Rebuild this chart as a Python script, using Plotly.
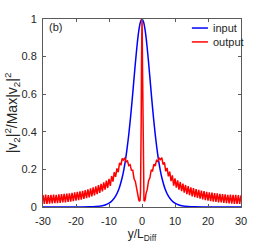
import numpy as np
import plotly.graph_objects as go

# ---- data ----
x_in = [-30, -20, -16, -14, -12, -11, -10, -9, -8, -7, -6, -5.5, -5, -4.5, -4, -3.5, -3, -2.5, -2, -1.5, -1, -0.5, 0,
        0.5, 1, 1.5, 2, 2.5, 3, 3.5, 4, 4.5, 5, 5.5, 6, 7, 8, 9, 10, 11, 12, 14, 16, 20, 30]
y_in = [0.0, 0.0001, 0.0009, 0.0025, 0.0072, 0.012, 0.020, 0.035, 0.058, 0.096, 0.157, 0.199, 0.251, 0.314, 0.387,
        0.472, 0.566, 0.667, 0.767, 0.859, 0.934, 0.983, 1.0,
        0.983, 0.934, 0.859, 0.767, 0.667, 0.566, 0.472, 0.387, 0.314, 0.251, 0.199, 0.157, 0.096, 0.058, 0.035,
        0.020, 0.012, 0.0072, 0.0025, 0.0009, 0.0001, 0.0]

# output: left wing x = -30 ... -1.2 (step 0.4)
out_left = [0.064, 0.017, 0.066, 0.016, 0.063, 0.018, 0.065, 0.019, 0.066, 0.020,
            0.064, 0.021, 0.067, 0.022, 0.068, 0.024, 0.070, 0.025, 0.071, 0.027,
            0.073, 0.029, 0.075, 0.031, 0.078, 0.034, 0.080, 0.036, 0.083, 0.039,
            0.086, 0.043, 0.090, 0.047, 0.094, 0.051, 0.099, 0.056, 0.104, 0.062,
            0.110, 0.068, 0.116, 0.075, 0.123, 0.083, 0.131, 0.092, 0.140, 0.101,
            0.150, 0.112, 0.165, 0.135, 0.185, 0.160, 0.205, 0.185, 0.235, 0.222,
            0.258, 0.250, 0.262, 0.240, 0.245, 0.220, 0.225, 0.195, 0.195, 0.150,
            0.135, 0.090, 0.065]
# output: central spike
x_center = [-1.0, -0.8, -0.6, -0.45, -0.35, -0.25, -0.15, -0.07, 0.0, 0.07, 0.15, 0.25, 0.35, 0.45, 0.6, 0.8, 1.0]
out_center = [0.040, 0.030, 0.035, 0.080, 0.200, 0.450, 0.750, 0.930, 1.000, 0.930, 0.750, 0.450, 0.200, 0.080,
              0.035, 0.030, 0.042]
# output: right wing x = 1.2 ... 30 (step 0.4)
out_right = [0.070, 0.095, 0.140, 0.155, 0.198, 0.192, 0.228, 0.218, 0.248, 0.242,
             0.260, 0.252, 0.262, 0.225, 0.238, 0.190, 0.208, 0.163, 0.188, 0.138,
             0.168, 0.114, 0.152, 0.103, 0.142, 0.093, 0.133, 0.084, 0.124, 0.076,
             0.117, 0.069, 0.111, 0.063, 0.105, 0.057, 0.100, 0.052, 0.095, 0.048,
             0.091, 0.044, 0.087, 0.040, 0.084, 0.037, 0.081, 0.034, 0.078, 0.031,
             0.076, 0.029, 0.074, 0.027, 0.072, 0.025, 0.070, 0.024, 0.068, 0.022,
             0.067, 0.021, 0.065, 0.019, 0.066, 0.018, 0.064, 0.017, 0.065, 0.016,
             0.063, 0.017, 0.062]

series_names = ["input", "output"]
series_colors = ["#0000ff", "#ff0000"]

x_tick_vals = [-30, -20, -10, 0, 10, 20, 30]
x_tick_text = ["-30", "-20", "-10", "0", "10", "20", "30"]
y_tick_vals = [0, 0.2, 0.4, 0.6, 0.8, 1]
y_tick_text = ["0", "0.2", "0.4", "0.6", "0.8", "1"]

x_left = list(np.round(np.arange(-30, -1.19, 0.4), 2))
x_right = list(np.round(np.arange(1.2, 30.01, 0.4), 2))
x_out = x_left + x_center + x_right
y_out = out_left + out_center + out_right

FONT = "Liberation Sans, Arial, sans-serif"
GREY = "#262626"

fig = go.Figure()
fig.add_trace(go.Scatter(x=x_in, y=y_in, mode="lines", name=series_names[0], showlegend=False,
                         line=dict(color=series_colors[0], width=1.5, shape="spline", smoothing=0.6)))
fig.add_trace(go.Scatter(x=x_out, y=y_out, mode="lines", name=series_names[1], showlegend=False,
                         line=dict(color=series_colors[1], width=1.5)))

axis_common = dict(showline=True, linecolor="#5a5a5a", linewidth=1, mirror="ticks",
                   ticks="inside", ticklen=3, tickcolor="#5a5a5a", showgrid=False, zeroline=False,
                   automargin=False,
                   tickfont=dict(family=FONT, size=11, color=GREY))

fig.update_xaxes(range=[-30, 30], tickvals=x_tick_vals, ticktext=x_tick_text,
                 title=dict(text="y/L<sub>Diff</sub>", font=dict(family=FONT, size=12, color=GREY), standoff=0),
                 ticklabelstandoff=4, **axis_common)
fig.update_yaxes(range=[0, 1], tickvals=y_tick_vals, ticktext=y_tick_text,
                 title=dict(text="|v<sub>2</sub>|<sup>2</sup>/Max|v<sub>2</sub>|<sup>2</sup>",
                            font=dict(family=FONT, size=14, color=GREY), standoff=0),
                 ticklabelstandoff=3, **axis_common)

fig.add_annotation(x=0.02, y=0.955, xref="paper", yref="paper", text="(b)", showarrow=False,
                   xanchor="left", yanchor="middle", font=dict(family=FONT, size=11, color=GREY))

# legend (drawn as key lines + labels, placed like the reference's legend box)
legend_rows = [0.952, 0.878]
for name, color, yy in zip(series_names, series_colors, legend_rows):
    fig.add_shape(type="line", xref="paper", yref="paper", x0=0.752, x1=0.833, y0=yy, y1=yy,
                  line=dict(color=color, width=1.5))
    fig.add_annotation(x=0.848, y=yy, xref="paper", yref="paper", text=name, showarrow=False,
                       xanchor="left", yanchor="middle", font=dict(family=FONT, size=11, color=GREY))

fig.update_layout(
    width=266, height=245,
    margin=dict(l=43, r=25, t=19, b=38),
    paper_bgcolor="white", plot_bgcolor="white",
    showlegend=False,
)

fig.write_html("out.html", config={"displayModeBar": False},
               post_script="document.body.style.margin='0';document.body.style.overflow='hidden';")
